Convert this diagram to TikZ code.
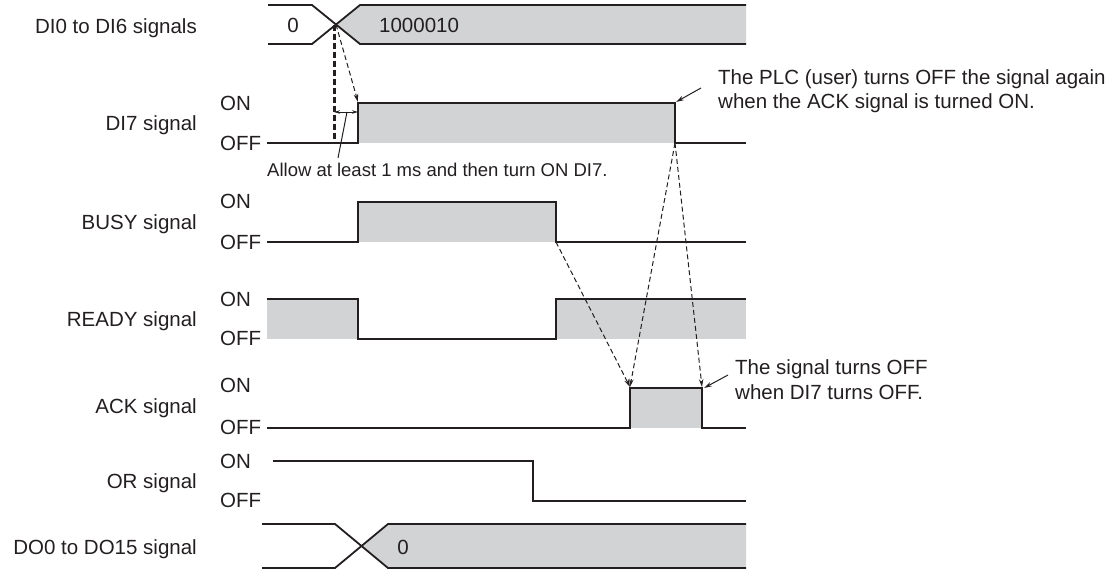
\documentclass[tikz,border=0pt]{standalone}
\usepackage{fontspec}
\setmainfont{Liberation Sans}
\usetikzlibrary{arrows.meta}
\definecolor{sigfill}{RGB}{210,211,213}
\definecolor{ink}{RGB}{35,31,32}
\begin{document}
\begin{tikzpicture}[x=1pt,y=-1pt,
  txt/.style={font=\fontsize{20.5}{24}\selectfont, inner sep=0pt, text=ink},
  siglbl/.style={txt, anchor=base east},
  lvl/.style={txt, anchor=base west},
  wave/.style={line width=1.8pt, draw=ink, line join=miter},
  gfill/.style={fill=sigfill, draw=none},
  dasharrow/.style={draw=ink, line width=1pt, dash pattern=on 5pt off 3pt, -{Stealth[length=8pt,width=4.5pt]}},
  leader/.style={draw=ink, line width=1pt, -{Stealth[length=8pt,width=4.5pt]}},
  plainleader/.style={draw=ink, line width=1pt},
  thickdash/.style={draw=ink, line width=3pt, dash pattern=on 6pt off 3pt},
  dimarrow/.style={draw=ink, line width=0.9pt, {Stealth[length=6pt,width=3.5pt]}-{Stealth[length=6pt,width=3.5pt]}}
]
\useasboundingbox (0,0) rectangle (1120,571);

% ---- left signal names
\node[siglbl] (nDI) at (197,33.4) {DI0 to DI6 signals};
\node[siglbl] (nDI7) at (197,130.4) {DI7 signal};
\node[siglbl] (nBUSY) at (197,229) {BUSY signal};
\node[siglbl] (nREADY) at (197,326.4) {READY signal};
\node[siglbl] (nACK) at (197,413.4) {ACK signal};
\node[siglbl] (nOR) at (197,488) {OR signal};
\node[siglbl] (nDO) at (197,554.4) {DO0 to DO15 signal};

% ---- ON / OFF levels
\node[lvl] (on1) at (220,110.4) {ON};
\node[lvl] (off1) at (220,150.4) {OFF};
\node[lvl] (on2) at (220,208.4) {ON};
\node[lvl] (off2) at (220,249.4) {OFF};
\node[lvl] (on3) at (220,306.4) {ON};
\node[lvl] (off3) at (220,345.4) {OFF};
\node[lvl] (on4) at (220,392.4) {ON};
\node[lvl] (off4) at (220,434.4) {OFF};
\node[lvl] (on5) at (220,468.4) {ON};
\node[lvl] (off5) at (220,507.4) {OFF};

% ---- fills
\fill[sigfill] (336,24.5) -- (360,5) -- (746,5) -- (746,44) -- (360,44) -- cycle;
\fill[sigfill] (358,103) rectangle (675,143);
\fill[sigfill] (358,202) rectangle (556,242);
\fill[sigfill] (267,299) rectangle (358,339);
\fill[sigfill] (556,299) rectangle (746,339);
\fill[sigfill] (630,388) rectangle (702,428);
\fill[sigfill] (361.5,546) -- (388,524) -- (746,524) -- (746,568) -- (388,568) -- cycle;

% ---- waveforms
\draw[wave] (268,5) -- (312,5) -- (360,44) -- (746,44);
\draw[wave] (268,44) -- (312,44) -- (360,5) -- (746,5);
\draw[wave] (267,143) -- (358,143) -- (358,103) -- (675,103) -- (675,143) -- (746,143);
\draw[wave] (267,242) -- (358,242) -- (358,202) -- (556,202) -- (556,242) -- (746,242);
\draw[wave] (267,299) -- (358,299) -- (358,339) -- (556,339) -- (556,299) -- (746,299);
\draw[wave] (267,428) -- (630,428) -- (630,388) -- (702,388) -- (702,428) -- (746,428);
\draw[wave] (273,461) -- (533,461) -- (533,501) -- (746,501);
\draw[wave] (262,524) -- (335,524) -- (388,568) -- (746,568);
\draw[wave] (262,568) -- (335,568) -- (388,524) -- (746,524);

% ---- values on buses
\node[txt] (v0) at (293,25) {0};
\node[txt, anchor=west] (v1) at (379,25) {1000010};
\node[txt] (vdo) at (403,547) {0};

% ---- key points
\coordinate (cross) at (336,24.5);
\coordinate (crossB) at (334,24.5);
\coordinate (di7low) at (334,144);
\coordinate (di7rise) at (358,102);
\coordinate (di7fallT) at (676,102);
\coordinate (di7fallB) at (675,143);
\coordinate (busyfall) at (556,242);
\coordinate (ackrise) at (630,387);
\coordinate (ackfall) at (702,387);
\coordinate (dimL) at (334,112);
\coordinate (dimR) at (358,112);
\coordinate (dimM) at (347,112);

% ---- timing connectors
\draw[thickdash] (crossB) -- (di7low);
\draw[dasharrow] (cross) -- (di7rise);
\draw[dimarrow] (dimL) -- (dimR);
\node[font=\fontsize{18.5}{22}\selectfont, text=ink, inner sep=0pt, anchor=base west] (allow) at (267,176.5) {Allow at least 1 ms and then turn ON DI7.};
\coordinate (allowLead) at (338,158);
\draw[plainleader] (allowLead) -- (dimM);

\draw[dasharrow] (di7fallB) -- (ackrise);
\draw[dasharrow] (di7fallB) -- (ackfall);
\draw[dasharrow] (busyfall) -- (ackrise);

% ---- annotations
\node[txt, align=left, anchor=north west] (ann1) at (718,69.3) {The PLC (user) turns OFF the signal again\\when the ACK signal is turned ON.};
\coordinate (ann1lead) at (701,88);
\draw[leader] (ann1lead) -- (di7fallT);

\node[font=\fontsize{20.5}{25}\selectfont, text=ink, inner sep=0pt, align=left, anchor=north west] (ann2) at (735,359.5) {The signal turns OFF\\when DI7 turns OFF.};
\coordinate (ann2lead) at (728,375);
\draw[leader] (ann2lead) -- (704,388);
\end{tikzpicture}
\end{document}
